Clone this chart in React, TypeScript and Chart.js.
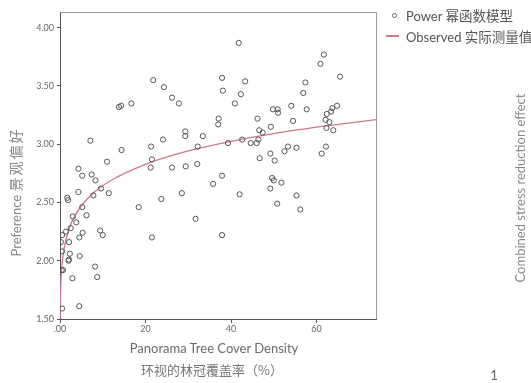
import React, { useEffect, useRef } from "react";
import { Chart, registerables } from "chart.js";

Chart.register(...registerables);

// Observed points: tree cover density (%) and preference
const coverX = [
  0.5, 4.5, 2.9, 8.7, 0.4, 0.7, 8.2, 2.0, 2.1, 4.6, 2.3, 0.5, 2.1, 0.2, 0.5, 1.4, 2.5, 4.5, 5.3, 9.4,
  10.0, 3.8, 3.0, 6.2, 5.2, 18.4, 1.7, 1.9, 4.3, 7.8, 11.4, 9.6, 8.3, 5.2, 7.4, 4.3, 11.0, 7.1, 14.4, 13.8,
  14.3, 16.7, 21.8, 24.3, 26.2, 27.8, 29.3, 29.3, 33.4, 24.1, 21.3, 32.2, 21.5, 21.2, 26.2, 29.4, 32.1, 35.8, 28.5, 23.7,
  31.7, 21.5, 41.8, 37.9, 43.3, 38.1, 42.3, 40.9, 37.1, 37.0, 46.2, 49.8, 50.9, 51.0, 54.1, 54.5, 49.3, 46.6, 47.4, 39.3,
  42.6, 44.6, 46.0, 46.4, 53.3, 52.5, 55.3, 49.2, 46.7, 50.2, 37.9, 49.6, 50.0, 51.8, 49.2, 42.0, 55.3, 50.8, 56.2, 37.9,
  61.7, 60.9, 65.5, 57.4, 56.9, 57.7, 64.8, 63.7, 63.4, 62.4, 62.1, 63.0, 62.3, 63.9, 62.2, 61.2,
];
const preferenceY = [
  1.59, 1.61, 1.85, 1.86, 1.92, 1.92, 1.95, 2.0, 2.01, 2.04, 2.06, 2.08, 2.16, 2.16, 2.22, 2.25, 2.28, 2.2, 2.24, 2.26,
  2.22, 2.33, 2.38, 2.39, 2.46, 2.46, 2.54, 2.52, 2.59, 2.56, 2.58, 2.62, 2.69, 2.73, 2.74, 2.79, 2.85, 3.03, 2.95, 3.32,
  3.33, 3.35, 3.55, 3.49, 3.4, 3.35, 3.11, 3.07, 3.07, 3.04, 2.98, 2.98, 2.87, 2.8, 2.8, 2.81, 2.83, 2.66, 2.58, 2.53,
  2.36, 2.2, 3.87, 3.57, 3.54, 3.46, 3.43, 3.35, 3.22, 3.17, 3.22, 3.3, 3.3, 3.27, 3.33, 3.2, 3.15, 3.12, 3.1, 3.01,
  3.04, 3.01, 3.01, 3.04, 2.98, 2.94, 2.97, 2.92, 2.88, 2.86, 2.73, 2.71, 2.69, 2.67, 2.62, 2.57, 2.56, 2.49, 2.44, 2.22,
  3.77, 3.69, 3.58, 3.53, 3.44, 3.3, 3.33, 3.31, 3.28, 3.26, 3.21, 3.19, 3.14, 3.12, 2.98, 2.92,
];

// Fitted power curve
const curveX = [0.03, 0.1, 0.3, 0.6, 1, 2, 3, 5, 8, 12, 20, 30, 40, 50, 60, 74];
const curveY = [1.505, 1.692, 1.882, 2.013, 2.115, 2.262, 2.353, 2.472, 2.588, 2.691, 2.828, 2.942, 3.025, 3.091, 3.146, 3.211];

// Axis ticks
const xTickValues = [0, 20, 40, 60];
const xTickLabels = [".00", "20", "40", "60"];
const yTickValues = [1.5, 2.0, 2.5, 3.0, 3.5, 4.0];
const yTickLabels = ["1.50", "2.00", "2.50", "3.00", "3.50", "4.00"];

const LATIN = 'Lato, "Noto Sans CJK SC", sans-serif';
const CJK = '"Noto Sans CJK SC", sans-serif';
const LINE_COLOR = "#cc7a88";

export default function App() {
  const ref = useRef<HTMLCanvasElement>(null);

  useEffect(() => {
    const canvas = ref.current;
    if (!canvas) return;
    const boxPlugin = {
      id: "box",
      afterDatasetsDraw(chart: any) {
        const { ctx, chartArea } = chart;
        ctx.save();
        ctx.strokeStyle = "#9a9a9a";
        ctx.lineWidth = 1;
        ctx.beginPath();
        ctx.moveTo(chartArea.left, chartArea.top + 0.5);
        ctx.lineTo(chartArea.right + 0.5, chartArea.top + 0.5);
        ctx.lineTo(chartArea.right + 0.5, chartArea.bottom);
        ctx.stroke();
        ctx.restore();
      },
    };
    const chart = new Chart(canvas, {
      type: "scatter",
      data: {
        datasets: [
          {
            type: "scatter",
            label: "Power 幂函数模型",
            data: coverX.map((x, i) => ({ x, y: preferenceY[i] })),
            pointRadius: 2.6,
            pointBorderWidth: 1,
            pointBorderColor: "#555",
            pointBackgroundColor: "rgba(0,0,0,0)",
            pointStyle: "circle",
            order: 1,
          },
          {
            type: "line",
            label: "Observed 实际测量值",
            data: curveX.map((x, i) => ({ x, y: curveY[i] })),
            borderColor: LINE_COLOR,
            borderWidth: 1.3,
            pointRadius: 0,
            fill: false,
            cubicInterpolationMode: "monotone",
            order: 2,
          } as any,
        ],
      },
      options: {
        animation: false,
        responsive: false,
        maintainAspectRatio: false,
        layout: { padding: { top: 12, right: 155, left: 0, bottom: 0 } },
        plugins: { legend: { display: false }, tooltip: { enabled: false } },
        scales: {
          x: {
            type: "linear",
            min: 0,
            max: 73.9,
            afterBuildTicks: (s: any) => {
              s.ticks = xTickValues.map((v) => ({ value: v }));
            },
            afterFit: (s: any) => {
              s.height = 64;
            },
            ticks: {
              autoSkip: false,
              maxRotation: 0,
              padding: 1,
              color: "#666",
              font: { family: LATIN, size: 9 },
              callback: (v: any) => {
                const i = xTickValues.indexOf(Number(v));
                return i >= 0 ? xTickLabels[i] : "";
              },
            },
            grid: { display: true, drawOnChartArea: false, drawTicks: true, tickLength: 4, color: "#555" },
            border: { display: true, color: "#555", width: 1 },
            title: { display: false },
          },
          y: {
            type: "linear",
            min: 1.5,
            max: 4.135,
            afterBuildTicks: (s: any) => {
              s.ticks = yTickValues.map((v) => ({ value: v }));
            },
            afterFit: (s: any) => {
              s.width = 60;
            },
            ticks: {
              autoSkip: false,
              padding: 3,
              color: "#666",
              font: { family: LATIN, size: 9 },
              callback: (v: any) => {
                const i = yTickValues.findIndex((t) => Math.abs(t - Number(v)) < 1e-6);
                return i >= 0 ? yTickLabels[i] : "";
              },
            },
            grid: { display: true, drawOnChartArea: false, drawTicks: true, tickLength: 3, color: "#555" },
            border: { display: true, color: "#555", width: 1 },
            title: { display: false },
          },
        },
      },
      plugins: [boxPlugin],
    });
    return () => chart.destroy();
  }, []);

  const textStyle: React.CSSProperties = {
    position: "absolute",
    fontFamily: LATIN,
    fontSize: 13,
    fontWeight: 400,
    color: "#555",
    whiteSpace: "nowrap",
    lineHeight: "16px",
  };
  const cjk: React.CSSProperties = { fontFamily: CJK, fontSize: 13.5, fontWeight: 400 };

  return (
    <div style={{ position: "fixed", left: 0, top: 0, width: 531, height: 383, background: "#fff", overflow: "hidden" }}>
      <canvas ref={ref} width={531} height={383} style={{ position: "absolute", left: 0, top: 0, width: 531, height: 383 }} />
      {/* legend */}
      <div
        style={{
          position: "absolute",
          left: 391.5,
          top: 12.5,
          width: 5,
          height: 5,
          border: "1px solid #666",
          borderRadius: "50%",
          boxSizing: "border-box",
        }}
      />
      <div style={{ ...textStyle, left: 406, top: 7 }}>
        Power <span style={cjk}>幂函数模型</span>
      </div>
      <div style={{ position: "absolute", left: 386, top: 35, width: 13, height: 1.5, background: LINE_COLOR }} />
      <div style={{ ...textStyle, left: 406, top: 27.5 }}>
        Observed <span style={cjk}>实际测量值</span>
      </div>
      {/* y axis title */}
      <div
        style={{
          ...textStyle,
          color: "#888",
          left: -61,
          top: 184,
          width: 152,
          height: 16,
          textAlign: "center",
          transform: "rotate(-90deg)",
          transformOrigin: "50% 50%",
        }}
      >
        Preference <span style={{ fontFamily: CJK, fontSize: 14, fontWeight: 400, letterSpacing: 2 }}>景观偏好</span>
      </div>
      {/* x axis title */}
      <div style={{ ...textStyle, color: "#6a6a6a", left: 214, top: 348, transform: "translate(-50%, -50%)" }}>
        Panorama Tree Cover Density
      </div>
      <div
        style={{
          ...textStyle,
          fontFamily: CJK,
          color: "#777",
          left: 212,
          top: 370,
          transform: "translate(-50%, -50%)",
        }}
      >
        环视的林冠覆盖率（%）
      </div>
      {/* right-side label */}
      <div
        style={{
          ...textStyle,
          color: "#8a8a8a",
          left: 520,
          top: 188,
          transform: "translate(-50%, -50%) rotate(-90deg)",
        }}
      >
        Combined stress reduction effect
      </div>
      <div style={{ ...textStyle, color: "#666", fontSize: 14, left: 490, top: 367 }}>1</div>
    </div>
  );
}
